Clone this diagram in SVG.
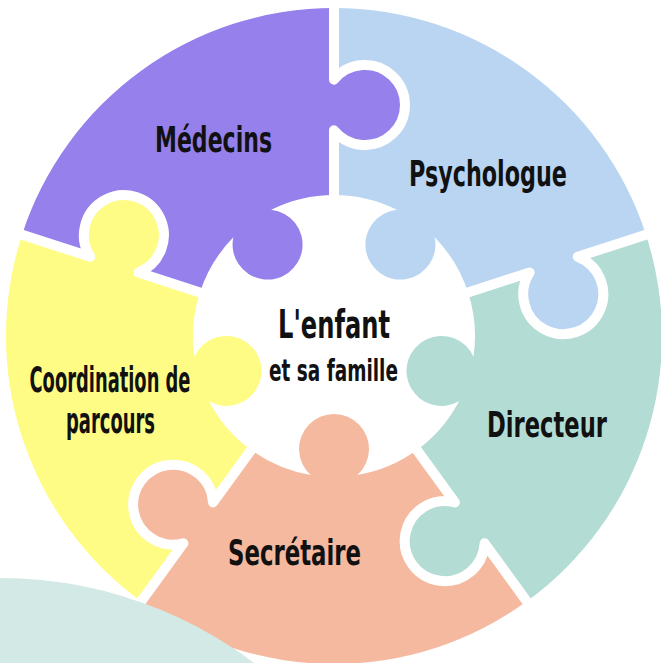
<svg xmlns="http://www.w3.org/2000/svg" width="661" height="663" viewBox="0 0 661 663">
<defs>
<style>
.lbl{font-family:"DejaVu Sans Condensed","Liberation Sans Narrow","Liberation Sans",sans-serif;font-weight:bold;font-size:35px;fill:#111;text-anchor:middle}
.seam{fill:none;stroke:#fff;stroke-width:10;stroke-linejoin:round}
</style>
<path id="piece" d="M0,-141 L0,-205.7 A40,40 0 1 0 0,-256.3 L0,-328 A328,328 0 0 1 311.95,-101.36 L243.76,-79.2 A40,40 0 1 1 195.63,-63.56 L134.1,-43.57 A141,141 0 0 0 100.655,-98.74 A35,35 0 1 1 62.806,-126.244 A141,141 0 0 0 0,-141 Z"/>
<path id="seamPath" d="M0,-128 L0,-205.7 A40,40 0 1 0 0,-256.3 L0,-336"/>
</defs>
<rect width="661" height="663" fill="#fff"/>
<g id="psychologue">
<use href="#piece" transform="translate(334,336)" fill="#b9d5f1"/>
<text class="lbl" x="488" y="186" textLength="158" lengthAdjust="spacingAndGlyphs">Psychologue</text>
</g>
<g id="directeur">
<use href="#piece" transform="translate(334,336) rotate(72)" fill="#b3dcd5"/>
<text class="lbl" x="547" y="437" textLength="120" lengthAdjust="spacingAndGlyphs">Directeur</text>
</g>
<g id="secretaire">
<use href="#piece" transform="translate(334,336) rotate(144)" fill="#f5b99f"/>
<text class="lbl" x="294.5" y="565" textLength="133" lengthAdjust="spacingAndGlyphs">Secrétaire</text>
</g>
<g id="coordination">
<use href="#piece" transform="translate(334,336) rotate(216)" fill="#fefc85"/>
<text class="lbl" x="110" y="392" textLength="161" lengthAdjust="spacingAndGlyphs">Coordination de</text>
<text class="lbl" x="110.5" y="432.5" textLength="89" lengthAdjust="spacingAndGlyphs">parcours</text>
</g>
<g id="medecins">
<use href="#piece" transform="translate(334,336) rotate(288)" fill="#9580ec"/>
<text class="lbl" x="213.5" y="152" textLength="117" lengthAdjust="spacingAndGlyphs">Médecins</text>
</g>
<g id="seams">
<use href="#seamPath" class="seam" transform="translate(334,336)"/>
<use href="#seamPath" class="seam" transform="translate(334,336) rotate(72)"/>
<use href="#seamPath" class="seam" transform="translate(334,336) rotate(144)"/>
<use href="#seamPath" class="seam" transform="translate(334,336) rotate(216)"/>
<use href="#seamPath" class="seam" transform="translate(334,336) rotate(288)"/>
</g>
<g id="center">
<text class="lbl"><tspan x="334" y="338" textLength="112" lengthAdjust="spacingAndGlyphs" style="font-size:39px">L'enfant</tspan><tspan x="333.5" y="381" textLength="129" lengthAdjust="spacingAndGlyphs" style="font-size:30px">et sa famille</tspan></text>
</g>
<circle id="blob" cx="0" cy="1000" r="422" fill="#d2e9e5"/>
</svg>
